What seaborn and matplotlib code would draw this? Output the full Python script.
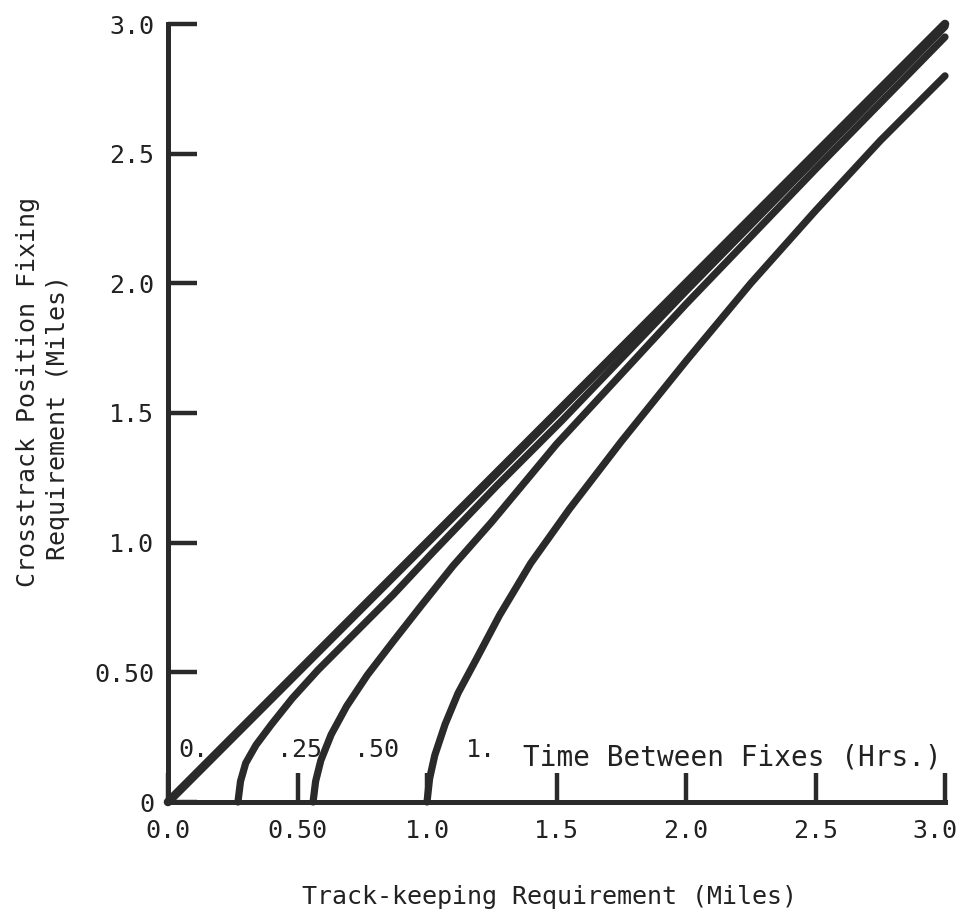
import seaborn as sns
import matplotlib.pyplot as plt
import matplotlib.transforms as mtransforms
import pandas as pd

# values (miles)
x_0 = [0.0, 1.0, 2.0, 3.0]
y_0 = [0.0, 1.0, 2.0, 3.0]

x_25 = [0.27, 0.28, 0.30, 0.34, 0.40, 0.48, 0.58, 0.71, 0.87, 1.02, 1.27, 1.52, 2.0, 2.5, 3.0]
y_25 = [0.0, 0.08, 0.15, 0.22, 0.30, 0.40, 0.51, 0.64, 0.80, 0.96, 1.22, 1.47, 1.97, 2.48, 2.99]

x_50 = [0.56, 0.57, 0.59, 0.63, 0.69, 0.77, 0.87, 0.98, 1.10, 1.25, 1.5, 1.75, 2.0, 2.5, 3.0]
y_50 = [0.0, 0.08, 0.16, 0.26, 0.37, 0.49, 0.62, 0.76, 0.91, 1.08, 1.38, 1.65, 1.92, 2.44, 2.95]

x_100 = [1.0, 1.01, 1.03, 1.07, 1.12, 1.19, 1.28, 1.40, 1.55, 1.75, 2.0, 2.25, 2.5, 2.75, 3.0]
y_100 = [0.0, 0.09, 0.18, 0.30, 0.42, 0.55, 0.72, 0.92, 1.13, 1.39, 1.70, 2.0, 2.28, 2.55, 2.80]

curve_labels = ["0.", ".25", ".50", "1."]
label_x = [0.04, 0.42, 0.72, 1.15]

x_ticks = [0.0, 0.5, 1.0, 1.5, 2.0, 2.5, 3.0]
x_tick_labels = ["0.0", "0.50", "1.0", "1.5", "2.0", "2.5", "3.0"]
y_ticks = [0.0, 0.5, 1.0, 1.5, 2.0, 2.5, 3.0]
y_tick_labels = ["0", "0.50", "1.0", "1.5", "2.0", "2.5", "3.0"]

sns.set_style("white")
plt.rcParams["font.family"] = ["DejaVu Sans Mono", "DejaVu Sans"]

ink = "#2a2a2a"
fig = plt.figure(figsize=(9.64, 9.24), dpi=100)
ax = fig.add_axes([168 / 964, (924 - 802) / 924, (945 - 168) / 964, (802 - 24) / 924])

curves = [(x_0, y_0, 6.2), (x_25, y_25, 5.2), (x_50, y_50, 5.2), (x_100, y_100, 5.2)]
for xs, ys, lw in curves:
    df = pd.DataFrame({"x": xs, "y": ys})
    sns.lineplot(data=df, x="x", y="y", ax=ax, color=ink, linewidth=lw,
                 solid_capstyle="round", solid_joinstyle="round", clip_on=False)

for lab, lx in zip(curve_labels, label_x):
    ax.text(lx, 0.20, lab, fontsize=18, color="#222222", ha="left", va="center")
ax.text(1.37, 0.17, "Time Between Fixes (Hrs.)", fontsize=20, color="#222222",
        ha="left", va="center")

ax.set_xlim(0, 3.0)
ax.set_ylim(0, 3.0)
ax.set_xticks(x_ticks)
ax.set_xticklabels(x_tick_labels)
ax.set_yticks(y_ticks)
ax.set_yticklabels(y_tick_labels)
ax.tick_params(axis="both", which="major", bottom=True, left=True, direction="in",
               length=21, width=3.2, color=ink, labelsize=18, labelcolor="#222222")
ax.tick_params(axis="x", pad=12)
ax.tick_params(axis="y", pad=10)
ax.set_xlabel("")
ax.set_ylabel("")

# last x label sits a little inside the axis end, as in the original
shift = mtransforms.ScaledTranslation(-10 / 100, 0, fig.dpi_scale_trans)
last = ax.get_xticklabels()[-1]
last.set_transform(last.get_transform() + shift)

for side in ["top", "right"]:
    ax.spines[side].set_visible(False)
for side in ["left", "bottom"]:
    ax.spines[side].set_linewidth(3.6)
    ax.spines[side].set_color(ink)
ax.patch.set_alpha(0)

fig.text(550 / 964, 1 - 897 / 924, "Track-keeping Requirement (Miles)", fontsize=18,
         color="#222222", ha="center", va="center")
fig.text(28 / 964, 1 - 392 / 924, "Crosstrack Position Fixing", fontsize=18,
         color="#222222", ha="center", va="center", rotation=90)
fig.text(58 / 964, 1 - 418 / 924, "Requirement (Miles)", fontsize=18,
         color="#222222", ha="center", va="center", rotation=90)

fig.savefig("out.png", dpi=100)
